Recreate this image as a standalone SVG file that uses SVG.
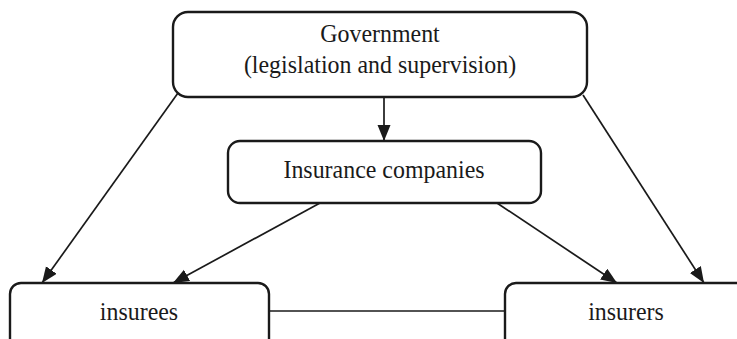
<svg xmlns="http://www.w3.org/2000/svg" width="737" height="339" viewBox="0 0 737 339">
<style>
.box{fill:#fff;stroke:#1a1a1a;stroke-width:2.4}
.lbl{font-family:"Liberation Serif","Times New Roman",serif;font-size:26px;fill:#1a1a1a;text-anchor:middle}
.edge{stroke:#1a1a1a;stroke-width:1.7;fill:none}
</style>
<defs>
<marker id="ah" markerUnits="userSpaceOnUse" markerWidth="17" markerHeight="14" refX="16" refY="6.5" orient="auto">
<path d="M0,0 L16,6.5 L0,13 Z" fill="#1a1a1a"/>
</marker>
</defs>
<rect width="737" height="339" fill="#fff"/>
<g id="connectors">
<line class="edge" x1="384" y1="98" x2="384" y2="141" marker-end="url(#ah)"/>
<line class="edge" x1="178" y1="93" x2="42" y2="283" marker-end="url(#ah)"/>
<line class="edge" x1="583" y1="95" x2="704" y2="283" marker-end="url(#ah)"/>
<line class="edge" x1="320" y1="203" x2="173" y2="283" marker-end="url(#ah)"/>
<line class="edge" x1="497" y1="203" x2="617" y2="283" marker-end="url(#ah)"/>
<line class="edge" x1="269" y1="311" x2="505" y2="311"/>
</g>
<g id="government">
<rect class="box" x="173" y="12" width="414" height="85" rx="15"/>
<text class="lbl" transform="translate(380 42) scale(0.92 1)">Government</text>
<text class="lbl" transform="translate(380 73) scale(0.92 1)">(legislation and supervision)</text>
</g>
<g id="insurance-companies">
<rect class="box" x="228" y="141" width="313" height="62" rx="12"/>
<text class="lbl" transform="translate(384 178) scale(0.92 1)">Insurance companies</text>
</g>
<g id="insurees">
<rect class="box" x="10" y="283" width="259" height="80" rx="11"/>
<text class="lbl" transform="translate(139 320) scale(0.92 1)">insurees</text>
</g>
<g id="insurers">
<rect class="box" x="505" y="283" width="259" height="80" rx="11"/>
<text class="lbl" transform="translate(626 320) scale(0.92 1)">insurers</text>
</g>
</svg>
